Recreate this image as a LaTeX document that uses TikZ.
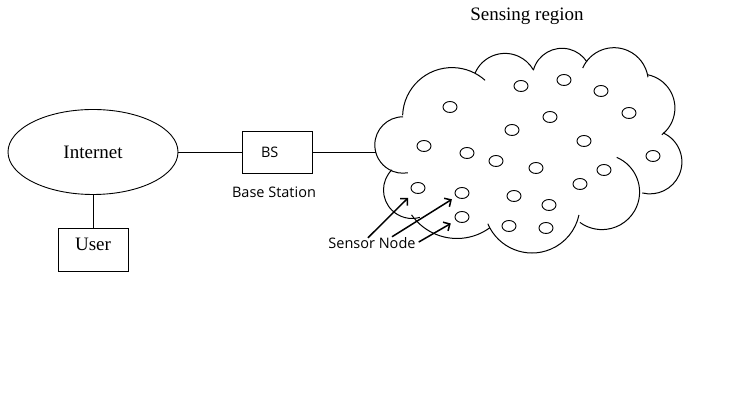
\documentclass[tikz,border=0pt]{standalone}
\usepackage{fontspec}
\setmainfont{Liberation Serif}
\newfontfamily\uifont{Open Sans}
\usepackage{tikz}
\usetikzlibrary{arrows.meta,calc,shapes.geometric}

\begin{document}
\begin{tikzpicture}[x=1pt,y=1pt,>={Straight Barb[length=5pt,width=10pt]},
  box/.style={draw,line width=0.9pt,minimum width=70pt,minimum height=43pt,inner sep=0pt},
  sensor/.style={draw,ellipse,line width=0.9pt,minimum width=14pt,minimum height=11pt,inner sep=0pt},
  pointer/.style={->,line width=1.5pt},
  serif/.style={font=\fontsize{19}{22}\selectfont},
  ui/.style={font=\uifont\fontsize{14.5}{17}\selectfont}]
  \useasboundingbox (0,0) rectangle (733,411);
  \node[draw,ellipse,line width=0.9pt,minimum width=170pt,minimum height=85pt,inner sep=0pt,serif] (internet) at (93,259) {Internet};
  \node[box,serif,text depth=10.5pt] (user) at (93,161.5) {User};
  \node[box,ui,minimum height=42pt,text width=32pt,align=left,inner xsep=19pt] (bs) at (277,259) {BS};
  \node[ui,anchor=base] (bslabel) at (274,213) {Base Station};
  \node[serif,anchor=base] (region) at (527,390) {Sensing region};
  \coordinate (cloudW) at (375.5,259);
  \draw[line width=0.9pt] (internet.south) -- (user.north);
  \draw[line width=0.9pt] (internet.east) -- (bs.west);
  \draw[line width=0.9pt] (bs.east) -- (cloudW);
  \foreach \cx/\cy/\r/\a/\b in {452/294/49.4/178/48, 505/325/32.6/157/30, 562/333/29.7/165/33,
      614/329/34.3/156/8, 641/303/33.9/78/-52, 650/249/31.9/66/-104, 602/219/37.6/67/-126,
      532/206/48/203/348, 457/228/55.5/215/306, 412/221/28.5/135/286, 403/266/28.2/90/280}
    \draw[line width=1pt] (\cx,\cy) ++(\a:\r) arc[start angle=\a,end angle=\b,radius=\r];
  \foreach \x/\y [count=\i] in {450/304,521/325,564/331,601/320,629/298,550/294,512/281,424/265,
      467/258,496/250,584/270,536/243,604/241,653/255,580/227,418/223,462/218,514/215,549/206,
      462/194,509/185,546/183}
    \node[sensor] (s\i) at (\x,\y) {};
  \node[ui,anchor=base,inner sep=0pt] (sn) at (372,162) {Sensor Node};
  \draw[pointer,shorten >=7.5pt] ($(sn.north)+(-4,0)$) -- (s16);
  \draw[pointer,shorten >=5pt] ($(sn.north)+(20,1)$) -- (s17);
  \draw[pointer,shorten >=6pt] ($(sn.east)+(3,1.5)$) -- (s20);
\end{tikzpicture}
\end{document}
